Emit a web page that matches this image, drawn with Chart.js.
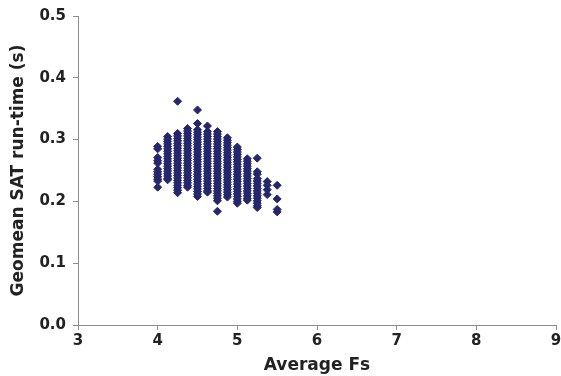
<!DOCTYPE html>
<html>
<head>
<meta charset="utf-8">
<script src="https://cdn.jsdelivr.net/npm/chart.js@4"></script>
<style>
  body { margin: 0; background: #fff; }
  canvas { display: block; }
</style>
</head>
<body>
<canvas id="chart-scatter" width="561" height="376"></canvas>
<script>
// Average Fs columns (x positions)
const fsValues = [4, 4.125, 4.25, 4.375, 4.5, 4.625, 4.75, 4.875, 5, 5.125, 5.25, 5.375, 5.5];

// Geomean SAT run-time (s) read per column
const runTimes = [
  [0.289, 0.285, 0.271, 0.266, 0.262, 0.252, 0.248, 0.244, 0.240, 0.236, 0.233, 0.223],
  [0.305, 0.301, 0.297, 0.293, 0.289, 0.285, 0.281, 0.277, 0.273, 0.269, 0.265, 0.261, 0.257, 0.253, 0.249, 0.245, 0.241, 0.237, 0.235],
  [0.362, 0.310, 0.306, 0.302, 0.298, 0.294, 0.290, 0.286, 0.282, 0.278, 0.274, 0.270, 0.266, 0.262, 0.258, 0.254, 0.250, 0.246, 0.242, 0.238, 0.234, 0.230, 0.226, 0.222, 0.218, 0.214],
  [0.318, 0.314, 0.310, 0.306, 0.302, 0.298, 0.294, 0.290, 0.286, 0.282, 0.278, 0.274, 0.270, 0.266, 0.262, 0.258, 0.254, 0.250, 0.246, 0.242, 0.238, 0.234, 0.230, 0.226, 0.223],
  [0.348, 0.326, 0.316, 0.312, 0.308, 0.304, 0.300, 0.296, 0.292, 0.288, 0.284, 0.280, 0.276, 0.272, 0.268, 0.264, 0.260, 0.256, 0.252, 0.248, 0.244, 0.240, 0.236, 0.232, 0.228, 0.224, 0.220, 0.216, 0.212, 0.208],
  [0.322, 0.313, 0.309, 0.305, 0.301, 0.297, 0.293, 0.289, 0.285, 0.281, 0.277, 0.273, 0.269, 0.265, 0.261, 0.257, 0.253, 0.249, 0.245, 0.241, 0.237, 0.233, 0.229, 0.225, 0.221, 0.217, 0.215],
  [0.313, 0.309, 0.305, 0.301, 0.297, 0.293, 0.289, 0.285, 0.281, 0.277, 0.273, 0.269, 0.265, 0.261, 0.257, 0.253, 0.249, 0.245, 0.241, 0.237, 0.233, 0.229, 0.225, 0.221, 0.217, 0.213, 0.209, 0.205, 0.201, 0.184],
  [0.303, 0.299, 0.295, 0.291, 0.287, 0.283, 0.279, 0.275, 0.271, 0.267, 0.263, 0.259, 0.255, 0.251, 0.247, 0.243, 0.239, 0.235, 0.231, 0.227, 0.223, 0.219, 0.215, 0.211, 0.207],
  [0.288, 0.284, 0.280, 0.276, 0.272, 0.268, 0.264, 0.260, 0.256, 0.252, 0.248, 0.244, 0.240, 0.236, 0.232, 0.228, 0.224, 0.220, 0.216, 0.212, 0.208, 0.204, 0.200, 0.197],
  [0.269, 0.265, 0.261, 0.257, 0.253, 0.249, 0.245, 0.241, 0.237, 0.233, 0.229, 0.225, 0.221, 0.217, 0.213, 0.209, 0.205, 0.202],
  [0.270, 0.248, 0.244, 0.237, 0.233, 0.229, 0.225, 0.221, 0.217, 0.213, 0.209, 0.205, 0.201, 0.197, 0.193, 0.190],
  [0.232, 0.226, 0.219, 0.211],
  [0.226, 0.204, 0.187, 0.183]
];

const xTicks = [3, 4, 5, 6, 7, 8, 9];
const yTicks = [0, 0.1, 0.2, 0.3, 0.4, 0.5];

const MARKER = '#25276d';
const AXIS = '#8c8c8c';
const TEXT = '#222222';
const FONT = 'DejaVu Sans';

const points = fsValues.flatMap((fs, i) => runTimes[i].map(t => ({ x: fs, y: t })));

new Chart(document.getElementById('chart-scatter'), {
  type: 'scatter',
  data: {
    datasets: [{
      label: 'Geomean SAT run-time',
      data: points,
      pointStyle: 'rectRot',
      pointRadius: 4,
      pointBackgroundColor: MARKER,
      pointBorderColor: MARKER,
      pointBorderWidth: 1
    }]
  },
  options: {
    responsive: false,
    animation: false,
    layout: { padding: { top: 15, right: 5, left: 0, bottom: 0 } },
    plugins: {
      legend: { display: false },
      tooltip: { enabled: false }
    },
    scales: {
      x: {
        type: 'linear',
        min: xTicks[0],
        max: xTicks[xTicks.length - 1],
        afterBuildTicks: (s) => { s.ticks = xTicks.map(v => ({ value: v })); },
        afterFit: (s) => {
          s.height = 51;
          // let the last label run to the edge, like the original
          s.paddingRight = 0;
          s.paddingLeft = 0;
        },
        ticks: {
          color: TEXT,
          font: { family: FONT, size: 15, weight: 'bold' },
          padding: 2,
          maxRotation: 0,
          callback: (v) => String(v)
        },
        grid: { display: true, drawOnChartArea: false, tickLength: 5, color: AXIS },
        border: { display: true, color: AXIS },
        title: {
          display: true,
          text: 'Average Fs',
          color: TEXT,
          font: { family: FONT, size: 17, weight: 'bold' },
          padding: { top: 4, bottom: 0 }
        }
      },
      y: {
        min: yTicks[0],
        max: yTicks[yTicks.length - 1],
        afterBuildTicks: (s) => { s.ticks = yTicks.map(v => ({ value: v })); },
        afterFit: (s) => { s.width = 78; },
        ticks: {
          color: TEXT,
          font: { family: FONT, size: 15, weight: 'bold' },
          padding: 7,
          callback: (v) => v.toFixed(1)
        },
        grid: { display: true, drawOnChartArea: false, tickLength: 5, color: AXIS },
        border: { display: true, color: AXIS },
        title: {
          display: true,
          text: 'Geomean SAT run-time (s)',
          color: TEXT,
          font: { family: FONT, size: 17, weight: 'bold' },
          padding: { top: 8, bottom: 0 }
        }
      }
    }
  }
});
</script>
</body>
</html>
